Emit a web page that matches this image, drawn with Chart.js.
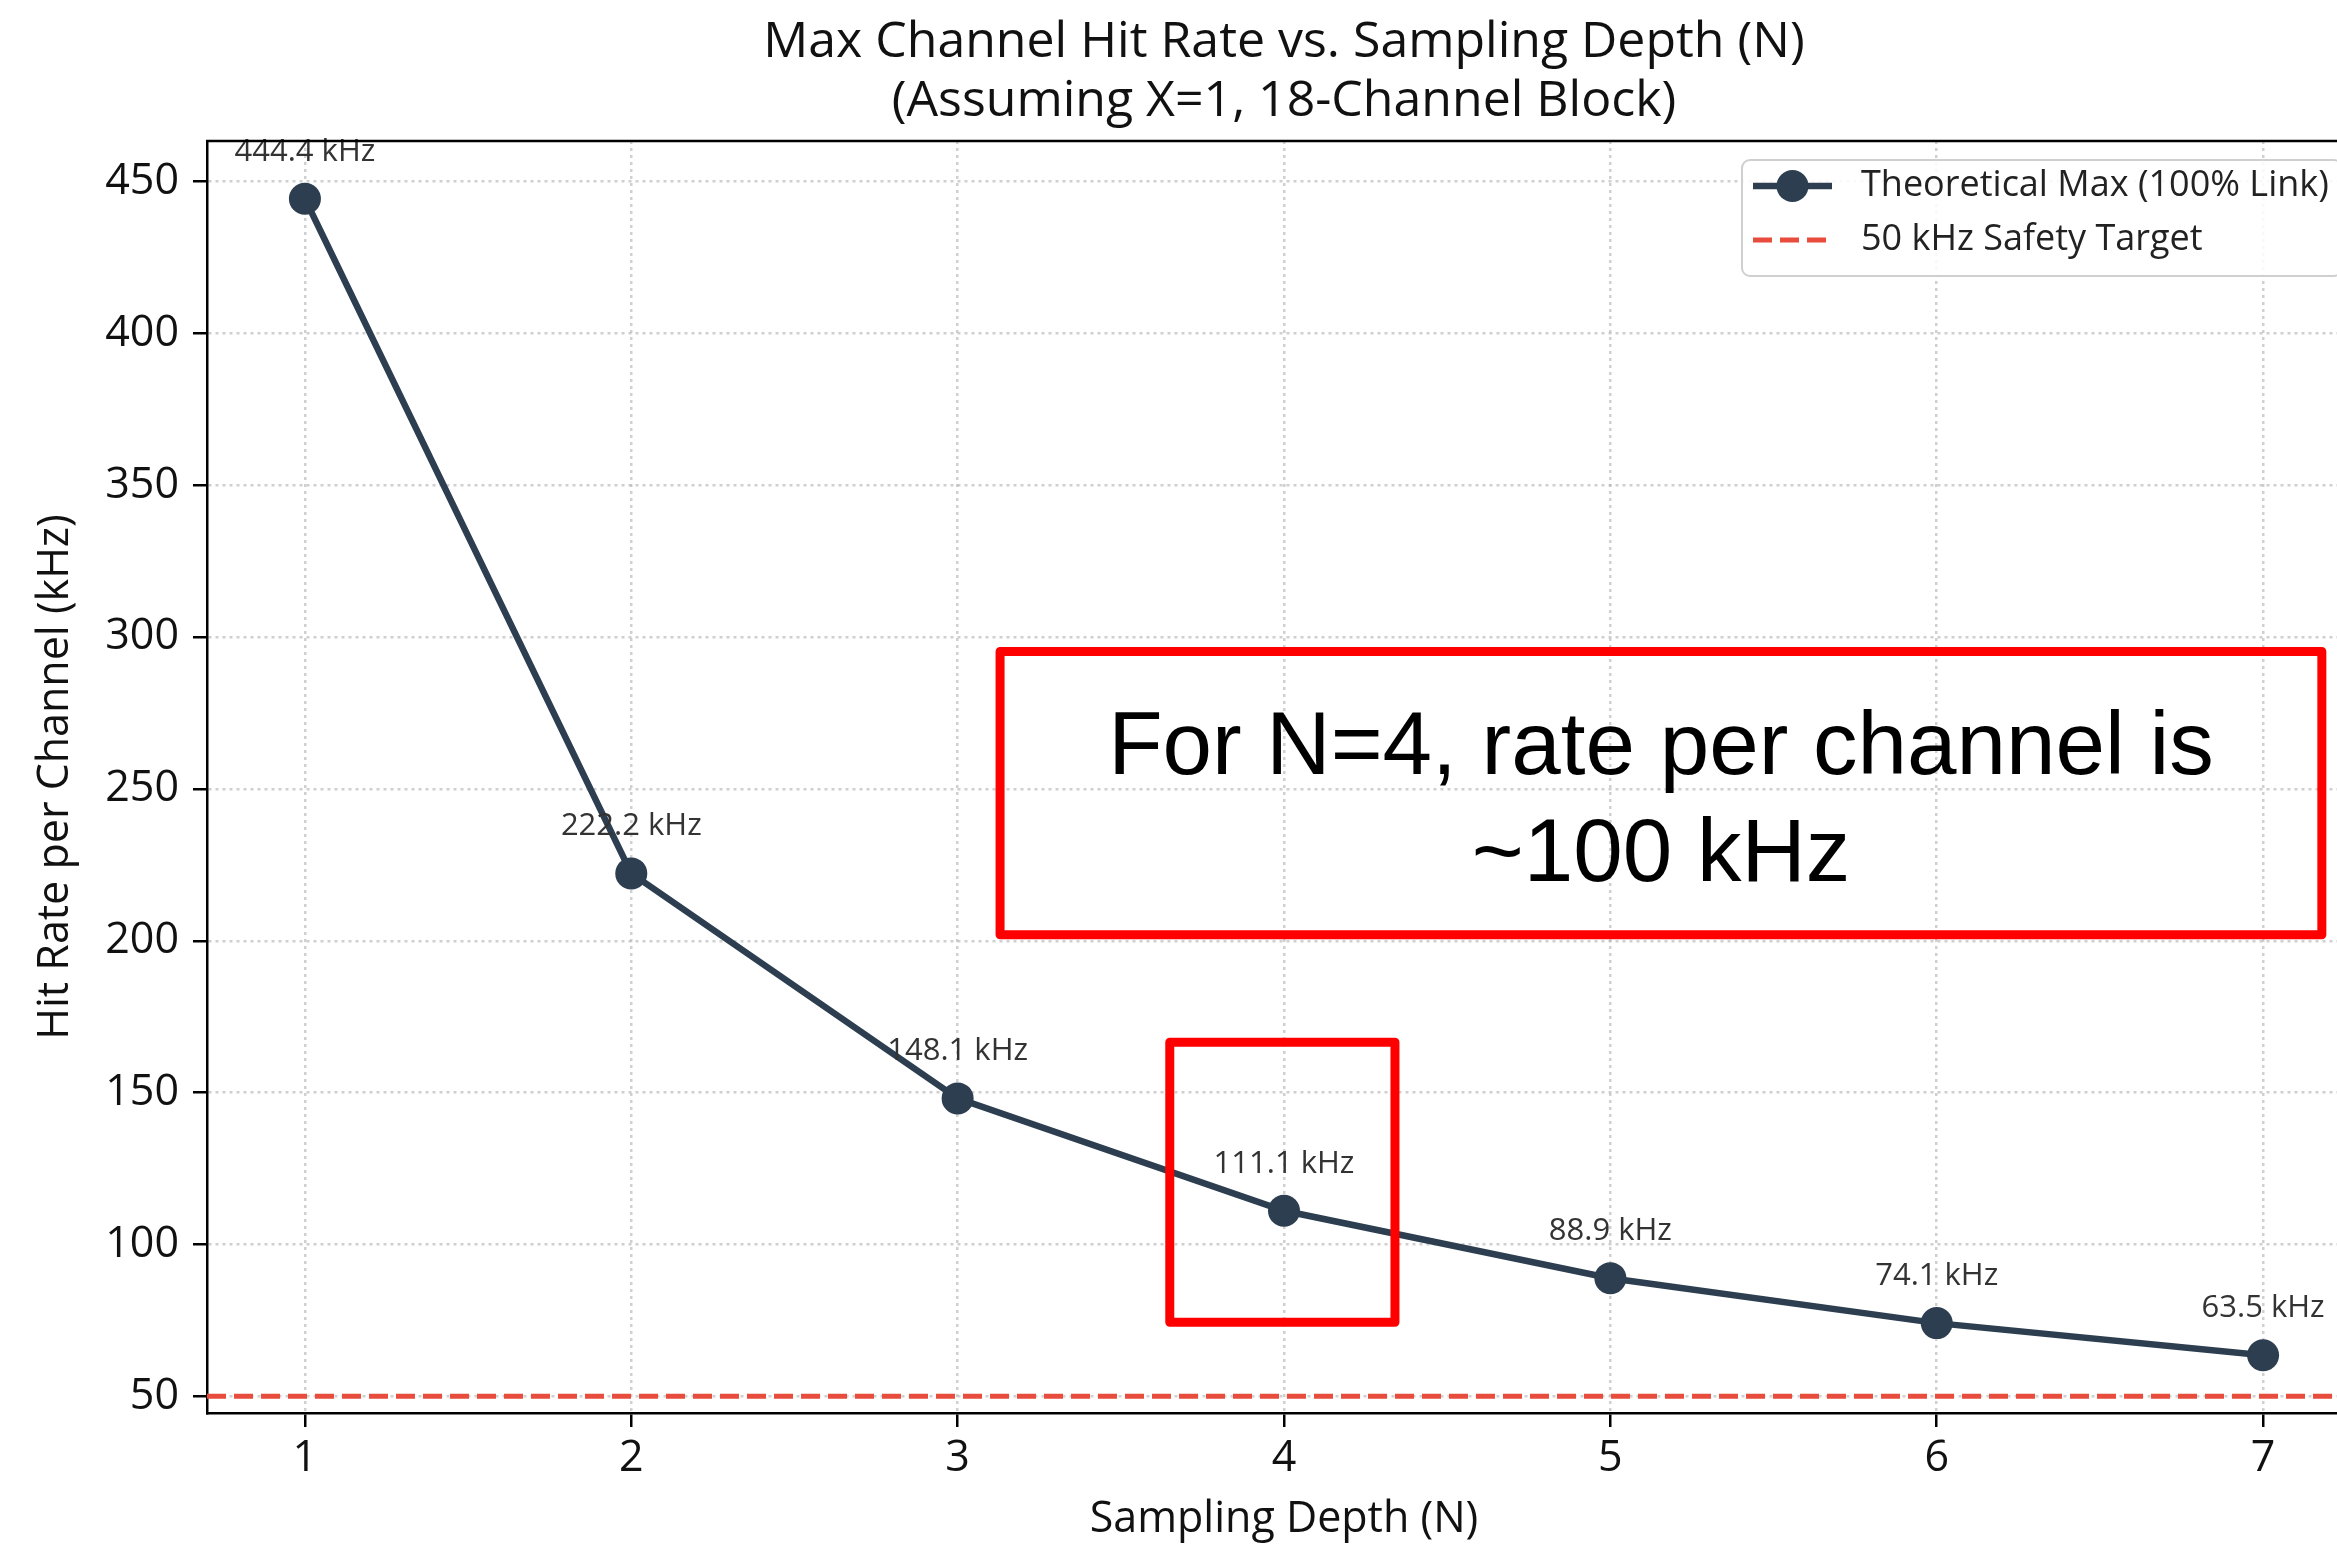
<!DOCTYPE html>
<html>
<head>
<meta charset="utf-8">
<script src="https://cdn.jsdelivr.net/npm/chart.js@4.4.0/dist/chart.umd.min.js"></script>
<style>
html, body { margin: 0; padding: 0; background: #fff; overflow: hidden; }
#wrap { position: relative; width: 2400px; height: 1546px; }
</style>
</head>
<body>
<div id="wrap"><canvas id="chart" width="2400" height="1546"></canvas></div>
<script>
// data
var depths = [1, 2, 3, 4, 5, 6, 7];
var hitRates = [444.4, 222.2, 148.1, 111.1, 88.9, 74.1, 63.5];
var targetRate = 50;
var xTicks = [1, 2, 3, 4, 5, 6, 7];
var yTicks = [50, 100, 150, 200, 250, 300, 350, 400, 450];
var xRange = [0.7, 7.3];
var yRange = [44.5, 463.4];
var titleLines = ["Max Channel Hit Rate vs. Sampling Depth (N)", "(Assuming X=1, 18-Channel Block)"];
var legendLabels = ["Theoretical Max (100% Link)", "50 kHz Safety Target"];
var noteLines = ["For N=4, rate per channel is", "~100 kHz"];
// annotation boxes in data units: [xMin, xMax, yMin, yMax]
var noteBox = [3.13, 7.18, 202, 295.3];
var focusBox = [3.65, 4.34, 74.4, 166.6];

var FONT = "'Open Sans', 'DejaVu Sans', sans-serif";
var LINE = "#2c3e50";
var RED = "#e74c3c";

var points = depths.map(function(d, i) { return {x: d, y: hitRates[i]}; });
var targetPts = xRange.map(function(x) { return {x: x, y: targetRate}; });

var extras = {
    id: "extras",
    afterDatasetsDraw: function(chart) {
        var ctx = chart.ctx, a = chart.chartArea;
        var xs = chart.scales.x, ys = chart.scales.y;
        ctx.save();

        // value labels
        ctx.font = "31px " + FONT;
        ctx.fillStyle = "#333";
        ctx.textAlign = "center";
        ctx.textBaseline = "alphabetic";
        chart.getDatasetMeta(0).data.forEach(function(p, i) {
            ctx.fillText(hitRates[i].toFixed(1) + " kHz", p.x, p.y - 38);
        });

        // top / right spines
        ctx.strokeStyle = "#000";
        ctx.lineWidth = 2.5;
        ctx.beginPath();
        ctx.moveTo(a.left - 1, a.top);
        ctx.lineTo(a.right, a.top);
        ctx.lineTo(a.right, a.bottom);
        ctx.stroke();

        // title
        var cx = (a.left + a.right) / 2;
        ctx.font = "50px " + FONT;
        ctx.fillStyle = "#111";
        ctx.textBaseline = "middle";
        ctx.fillText(titleLines[0], cx, 43);
        ctx.fillText(titleLines[1], cx, 102);

        // legend
        var bl = a.right - 619, br = a.right - 19, bt = 160, bb = 276;
        ctx.fillStyle = "rgba(255,255,255,0.85)";
        ctx.strokeStyle = "#cfcfcf";
        ctx.lineWidth = 2;
        ctx.beginPath();
        ctx.roundRect(bl, bt, br - bl, bb - bt, 8);
        ctx.fill();
        ctx.stroke();
        var hx = bl + 11, hw = 79;
        ctx.strokeStyle = LINE;
        ctx.lineWidth = 6.5;
        ctx.beginPath();
        ctx.moveTo(hx, 186); ctx.lineTo(hx + hw, 186);
        ctx.stroke();
        ctx.fillStyle = LINE;
        ctx.beginPath();
        ctx.arc(hx + hw / 2, 186, 16, 0, Math.PI * 2);
        ctx.fill();
        ctx.strokeStyle = RED;
        ctx.lineWidth = 5;
        ctx.setLineDash([19, 8]);
        ctx.beginPath();
        ctx.moveTo(hx, 240); ctx.lineTo(hx + hw, 240);
        ctx.stroke();
        ctx.setLineDash([]);
        ctx.font = "36px " + FONT;
        ctx.fillStyle = "#222";
        ctx.textAlign = "left";
        ctx.fillText(legendLabels[0], hx + hw + 29, 186);
        ctx.fillText(legendLabels[1], hx + hw + 29, 240);

        // red annotation boxes
        ctx.strokeStyle = "#ff0000";
        ctx.lineWidth = 9;
        ctx.lineJoin = "round";
        [noteBox, focusBox].forEach(function(b) {
            var x1 = xs.getPixelForValue(b[0]), x2 = xs.getPixelForValue(b[1]);
            var y1 = ys.getPixelForValue(b[3]), y2 = ys.getPixelForValue(b[2]);
            ctx.strokeRect(x1, y1, x2 - x1, y2 - y1);
        });
        var nx = (xs.getPixelForValue(noteBox[0]) + xs.getPixelForValue(noteBox[1])) / 2;
        ctx.font = "89px 'Liberation Sans', Arial, sans-serif";
        ctx.fillStyle = "#000";
        ctx.textAlign = "center";
        ctx.fillText(noteLines[0], nx, 749);
        ctx.fillText(noteLines[1], nx, 856);

        ctx.restore();
    }
};

var ctx = document.getElementById("chart").getContext("2d");
var chart = new Chart(ctx, {
    type: "line",
    data: {
        datasets: [
            {
                label: legendLabels[0],
                data: points,
                borderColor: LINE,
                backgroundColor: LINE,
                borderWidth: 6.5,
                pointRadius: 16,
                pointBorderWidth: 0,
                pointBackgroundColor: LINE,
                tension: 0,
            },
            {
                label: legendLabels[1],
                data: targetPts,
                borderColor: RED,
                borderWidth: 5,
                borderDash: [19, 8],
                pointRadius: 0,
                tension: 0,
            },
        ]
    },
    options: {
        responsive: false,
        animation: false,
        devicePixelRatio: 1,
        events: [],
        layout: { padding: { top: 141, right: 39, left: 0, bottom: 0 } },
        plugins: { legend: { display: false }, tooltip: { enabled: false } },
        scales: {
            x: {
                type: "linear",
                min: xRange[0],
                max: xRange[1],
                afterBuildTicks: function(s) { s.ticks = xTicks.map(function(v) { return {value: v}; }); },
                afterFit: function(s) { s.height = 133; },
                ticks: { font: { family: FONT, size: 43 }, color: "#111", padding: 6 },
                grid: { color: "rgba(176,176,176,0.6)", lineWidth: 2.5, tickLength: 14, tickColor: "#000", tickWidth: 2.5, tickBorderDash: [] },
                border: { display: true, color: "#000", width: 2.5, dash: [3, 4] },
                title: { display: true, text: "Sampling Depth (N)", font: { family: FONT, size: 43 }, color: "#111", padding: { top: 0, bottom: 0 } },
            },
            y: {
                type: "linear",
                min: yRange[0],
                max: yRange[1],
                afterBuildTicks: function(s) { s.ticks = yTicks.map(function(v) { return {value: v}; }); },
                afterFit: function(s) { s.width = 207; },
                ticks: { font: { family: FONT, size: 43 }, color: "#111", padding: 14 },
                grid: { color: "rgba(176,176,176,0.6)", lineWidth: 2.5, tickLength: 14, tickColor: "#000", tickWidth: 2.5, tickBorderDash: [] },
                border: { display: true, color: "#000", width: 2.5, dash: [3, 4] },
                title: { display: true, text: "Hit Rate per Channel (kHz)", font: { family: FONT, size: 43 }, color: "#111", padding: { top: 30, bottom: 0 } },
            },
        }
    },
    plugins: [extras]
});
</script>
</body>
</html>
